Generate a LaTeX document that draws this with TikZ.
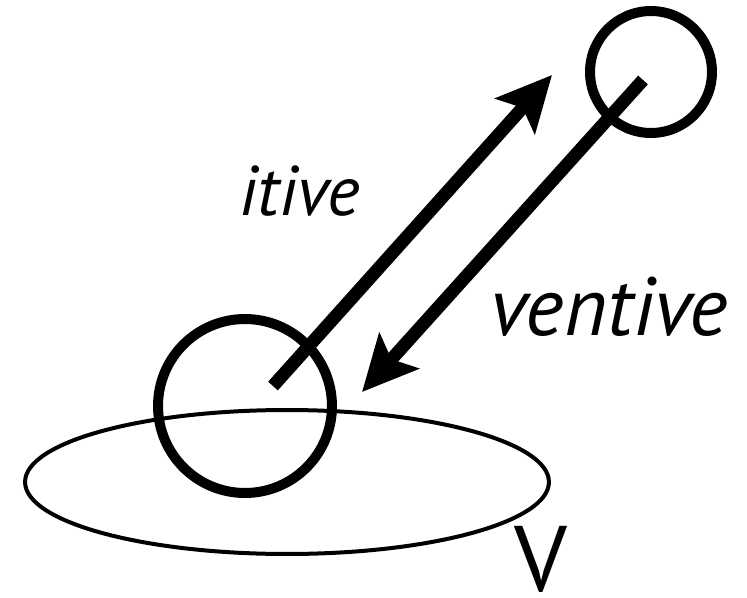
\documentclass[tikz,border=0pt]{standalone}
\usepackage{fontspec}
\setmainfont[Ligatures=NoCommon]{PT Sans}
\usetikzlibrary{arrows.meta,shapes.geometric}

\tikzset{
  ring/.style={circle, draw, line width=0.2cm, inner sep=0pt},
  lieu/.style={ellipse, draw, line width=0.08cm, inner sep=0pt,
    minimum width=10.48cm, minimum height=2.88cm},
  fleche/.style={line width=0.26cm,
    -{Stealth[length=1.1cm, width=1.05cm, inset=0.22cm]}},
  mot/.style={inner sep=0pt, anchor=base west, font=\itshape}
}

\begin{document}
\begin{tikzpicture}[x=0.02cm, y=-0.02cm]
    \useasboundingbox (0,0) rectangle (747,598);
    % Lieu V
    \node[lieu] (V) at (287,482) {};
    \node[inner sep=0pt, anchor=base west, font=\fontsize{53}{60}\selectfont]
      (Vlab) at (514,591) {V};

    % Cercles
    \node[ring, minimum size=3.48cm] (lo) at (245,406) {};
    \node[ring, minimum size=2.44cm] (hi) at (651,72) {};

    % Bouts des fleches
    \coordinate (itS) at (273,386);
    \coordinate (itE) at (552,75);
    \coordinate (veS) at (643,80);
    \coordinate (veE) at (362,392);

    % Fleches
    \draw[fleche] (itS) -- (itE);
    \draw[fleche] (veS) -- (veE);

    % Mots
    \node[mot, font=\itshape\fontsize{40}{46}\selectfont] (itive) at (239,215) {itive};
    \node[mot, font=\itshape\fontsize{47}{54}\selectfont] (ventive) at (490,335) {ventive};
\end{tikzpicture}
\end{document}
